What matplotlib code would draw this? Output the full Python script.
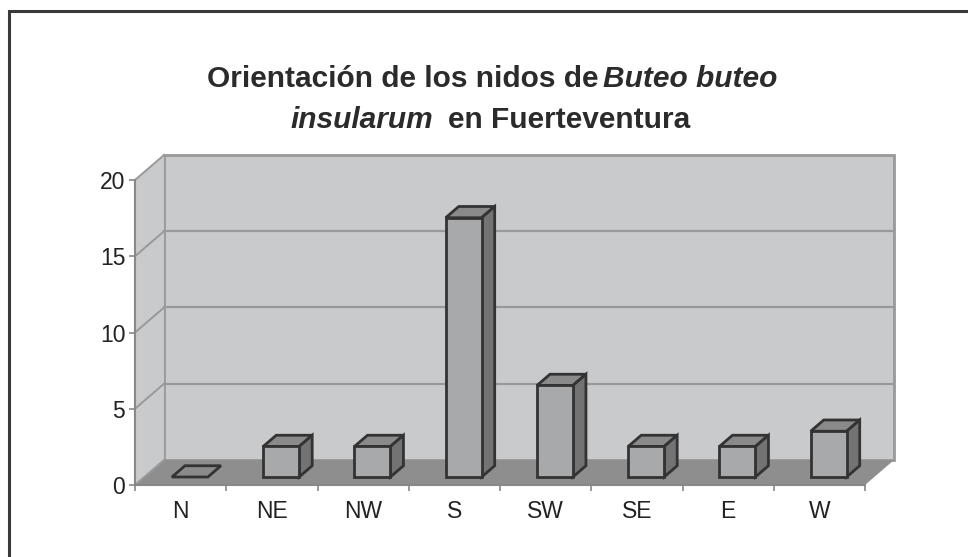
import matplotlib.pyplot as plt
from matplotlib.patches import Polygon, Rectangle

# data
categories = ['N', 'NE', 'NW', 'S', 'SW', 'SE', 'E', 'W']
nests = [0, 2, 2, 17, 6, 2, 2, 3]
y_ticks = [0, 5, 10, 15, 20]

plt.rcParams['font.family'] = 'Liberation Sans'

W, H = 968, 557
fig = plt.figure(figsize=(W / 100, H / 100), dpi=100)

# front plane of the 3D box
ax = fig.add_axes([135 / W, 72 / H, 730 / W, 305 / H])
ax.set_xlim(-0.5, len(categories) - 0.5)
ax.set_ylim(0, 20)
ax.patch.set_visible(False)

# depth of the box in data units (x in categories, y in values)
ddx, ddy = 0.318, 1.64
x_lo, x_hi = -0.5, len(categories) - 0.5
wall_col = '#c9cacc'
floor_col = '#8e8e8e'
grid_col = '#999999'

# back wall and left wall
ax.add_patch(Rectangle((x_lo + ddx, ddy), x_hi - x_lo, 20, facecolor=wall_col,
                       edgecolor=grid_col, lw=2, clip_on=False, zorder=0))
ax.add_patch(Polygon([(x_lo, 0), (x_lo, 20), (x_lo + ddx, 20 + ddy), (x_lo + ddx, ddy)],
                     closed=True, facecolor=wall_col, edgecolor='none', clip_on=False, zorder=0))
# floor
ax.add_patch(Polygon([(x_lo, 0), (x_hi, 0), (x_hi + ddx, ddy), (x_lo + ddx, ddy)],
                     closed=True, facecolor=floor_col, edgecolor='none', clip_on=False, zorder=1))

# gridlines on both walls
for v in y_ticks:
    ax.plot([x_lo, x_lo + ddx], [v, v + ddy], color=grid_col, lw=1.4, clip_on=False, zorder=1)
    if 0 < v < 20:
        ax.plot([x_lo + ddx, x_hi + ddx], [v + ddy, v + ddy], color=grid_col, lw=1.6,
                clip_on=False, zorder=1)

# bars
f0, f1 = 0.32, 0.77
hw = 0.197
bdx, bdy = (f1 - f0) * ddx, (f1 - f0) * ddy
edge = '#333333'
for i, v in enumerate(nests):
    x0 = i + f0 * ddx - hw
    x1 = i + f0 * ddx + hw
    y0 = f0 * ddy
    y1 = v + y0
    top = [(x0, y1), (x1, y1), (x1 + bdx, y1 + bdy), (x0 + bdx, y1 + bdy)]
    ax.add_patch(Polygon(top, closed=True, facecolor='#8a8a8a', edgecolor=edge, lw=2,
                         joinstyle='miter', clip_on=False, zorder=3))
    if v > 0:
        side = [(x1, y0), (x1 + bdx, y0 + bdy), (x1 + bdx, y1 + bdy), (x1, y1)]
        ax.add_patch(Polygon(side, closed=True, facecolor='#737373', edgecolor=edge, lw=2,
                             joinstyle='miter', clip_on=False, zorder=3))
        ax.add_patch(Rectangle((x0, y0), x1 - x0, v, facecolor='#a8a9ab', edgecolor=edge,
                               lw=2, joinstyle='miter', clip_on=False, zorder=4))

# axes lines and ticks
for s in ['top', 'right']:
    ax.spines[s].set_visible(False)
for s in ['left', 'bottom']:
    ax.spines[s].set_color('#888888')
    ax.spines[s].set_linewidth(1.5)
    ax.spines[s].set_zorder(2)

ax.set_yticks(y_ticks)
ax.set_yticklabels([str(t) for t in y_ticks])
ax.set_xticks([i - 0.5 for i in range(len(categories) + 1)])
ax.set_xticklabels([])
ax.set_xticks(range(len(categories)), minor=True)
ax.set_xticklabels(categories, minor=True)
ax.tick_params(axis='y', length=4, width=1.2, color='#888888', pad=3,
               labelsize=16.5, labelcolor='#222222')
ax.tick_params(axis='x', which='major', length=4, width=1.2, color='#888888')
ax.tick_params(axis='x', which='minor', length=0, pad=11, labelsize=16.5, labelcolor='#222222')

# outer frame
fig.add_artist(Rectangle((9 / W, -0.1), 1.2, 1 - 11 / H + 0.1, transform=fig.transFigure,
                         facecolor='none', edgecolor='#3a3a3a', lw=2.2))

# title with mixed bold / bold italic
renderer = fig.canvas.get_renderer()


def title_line(parts, baseline_px, center_px):
    texts = []
    for s, style, gap in parts:
        t = fig.text(0, 0, s, fontsize=21.5, fontweight='bold', fontstyle=style,
                     color='#2b2b2b', va='baseline', ha='left')
        texts.append((t, gap))
    widths = [t.get_window_extent(renderer).width for t, g in texts]
    total = sum(widths) + sum(g for t, g in texts[:-1])
    x = center_px - total / 2
    for (t, gap), w in zip(texts, widths):
        t.set_position((x / W, 1 - baseline_px / H))
        x += w + gap


title_line([('Orientación de los nidos de', 'normal', 4), ('Buteo buteo', 'italic', 0)], 87, 492)
title_line([('insularum', 'italic', 15), ('en Fuerteventura', 'normal', 0)], 128, 490)

fig.savefig('out.png', dpi=100)
